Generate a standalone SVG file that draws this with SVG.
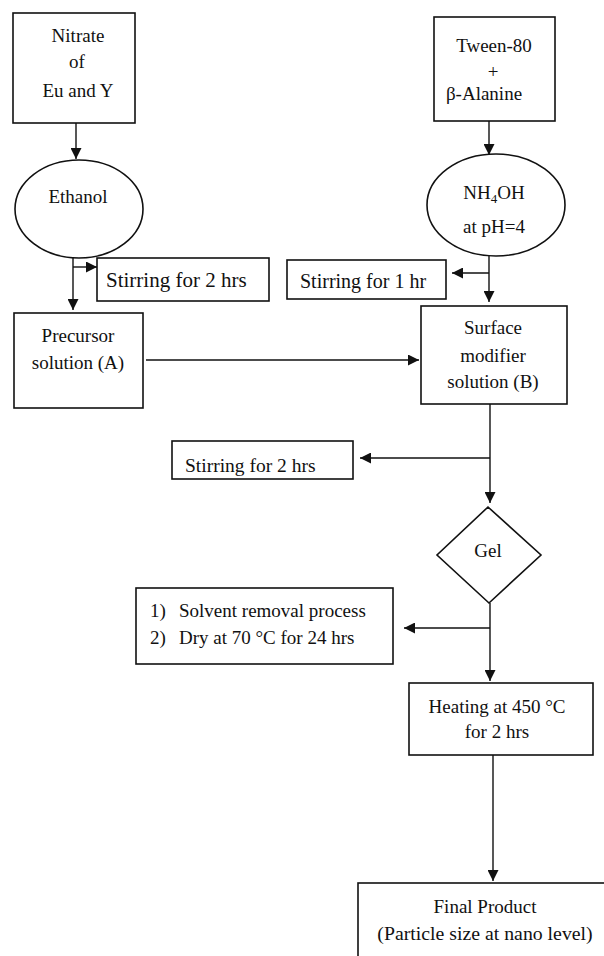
<svg xmlns="http://www.w3.org/2000/svg" width="604" height="956" viewBox="0 0 604 956">
<style>
.box{fill:#fff;stroke:#111;stroke-width:1.6}
.ln{fill:none;stroke:#111;stroke-width:1.4}
text{font-family:"Liberation Serif","Times New Roman",serif;fill:#111;font-size:19px}
.c{text-anchor:middle}
.st{font-size:20px}
</style>
<defs>
<marker id="ah" viewBox="0 0 10 10" refX="10" refY="5" markerWidth="11" markerHeight="11" markerUnits="userSpaceOnUse" orient="auto">
<path d="M0,0 L10,5 L0,10 Z" fill="#111"/>
</marker>
<clipPath id="clipS2"><rect x="172" y="441" width="181" height="38"/></clipPath>
</defs>
<rect width="604" height="956" fill="#fff"/>
<g id="connectors">
<line class="ln" x1="76" y1="123" x2="76" y2="159" marker-end="url(#ah)"/>
<line class="ln" x1="73" y1="258" x2="73" y2="310" marker-end="url(#ah)"/>
<line class="ln" x1="73" y1="267" x2="97" y2="267" marker-end="url(#ah)"/>
<line class="ln" x1="489" y1="121" x2="489" y2="155" marker-end="url(#ah)"/>
<line class="ln" x1="489" y1="255" x2="489" y2="302" marker-end="url(#ah)"/>
<line class="ln" x1="489" y1="273" x2="452" y2="273" marker-end="url(#ah)"/>
<line class="ln" x1="146" y1="360" x2="419" y2="360" marker-end="url(#ah)"/>
<line class="ln" x1="490" y1="404" x2="490" y2="503" marker-end="url(#ah)"/>
<line class="ln" x1="490" y1="458" x2="360" y2="458" marker-end="url(#ah)"/>
<line class="ln" x1="490" y1="603" x2="490" y2="681" marker-end="url(#ah)"/>
<line class="ln" x1="490" y1="628" x2="404" y2="628" marker-end="url(#ah)"/>
<line class="ln" x1="493" y1="755" x2="493" y2="881" marker-end="url(#ah)"/>
</g>
<g id="nitrate">
<rect class="box" x="13" y="13" width="122" height="110"/>
<text class="c" x="78" y="42">Nitrate</text>
<text class="c" x="77" y="68">of</text>
<text class="c" x="78" y="97">Eu and Y</text>
</g>
<g id="ethanol">
<ellipse class="box" cx="79" cy="209" rx="64" ry="49"/>
<text class="c" x="78" y="203">Ethanol</text>
</g>
<g id="stirring1">
<rect class="box" x="97" y="258" width="172" height="43"/>
<text x="106" y="287" style="font-size:21px">Stirring for 2 hrs</text>
</g>
<g id="precursor">
<rect class="box" x="14" y="313" width="129" height="95"/>
<text class="c" x="78" y="342">Precursor</text>
<text class="c" x="78" y="369">solution (A)</text>
</g>
<g id="tween">
<rect class="box" x="434" y="17" width="121" height="104"/>
<text class="c" x="494" y="52">Tween-80</text>
<text class="c" x="493" y="78">+</text>
<text class="c" x="484" y="100">β-Alanine</text>
</g>
<g id="nh4oh">
<ellipse class="box" cx="496" cy="205" rx="69" ry="51"/>
<text class="c" x="494" y="199">NH<tspan font-size="13" dy="4">4</tspan><tspan dy="-4">OH</tspan></text>
<text class="c" x="494" y="233">at pH=4</text>
</g>
<g id="stirring2">
<rect class="box" x="287" y="260" width="159" height="39"/>
<text class="st" x="300" y="288">Stirring for 1 hr</text>
</g>
<g id="surface">
<rect class="box" x="421" y="306" width="146" height="98"/>
<text class="c" x="493" y="334">Surface</text>
<text class="c" x="493" y="362">modifier</text>
<text class="c" x="493" y="388">solution (B)</text>
</g>
<g id="stirring3">
<rect class="box" x="172" y="441" width="181" height="38"/>
<text x="185" y="472" style="font-size:19.5px" clip-path="url(#clipS2)">Stirring for 2 hrs</text>
</g>
<g id="gel">
<polygon class="box" points="488,507 541,555 489,603 437,555"/>
<text class="c" x="488" y="557">Gel</text>
</g>
<g id="dry">
<rect class="box" x="136" y="588" width="257" height="76"/>
<text x="150" y="617">1)</text>
<text x="179" y="617">Solvent removal process</text>
<text x="150" y="644">2)</text>
<text x="179" y="644">Dry at 70 °C for 24 hrs</text>
</g>
<g id="heating">
<rect class="box" x="409" y="683" width="184" height="72"/>
<text class="c" x="497" y="713">Heating at 450 °C</text>
<text class="c" x="497" y="738">for 2 hrs</text>
</g>
<g id="final">
<rect class="box" x="358" y="883" width="260" height="90"/>
<text class="c" x="485" y="913">Final Product</text>
<text class="c" x="485" y="940" style="font-size:19.8px">(Particle size at nano level)</text>
</g>
</svg>
